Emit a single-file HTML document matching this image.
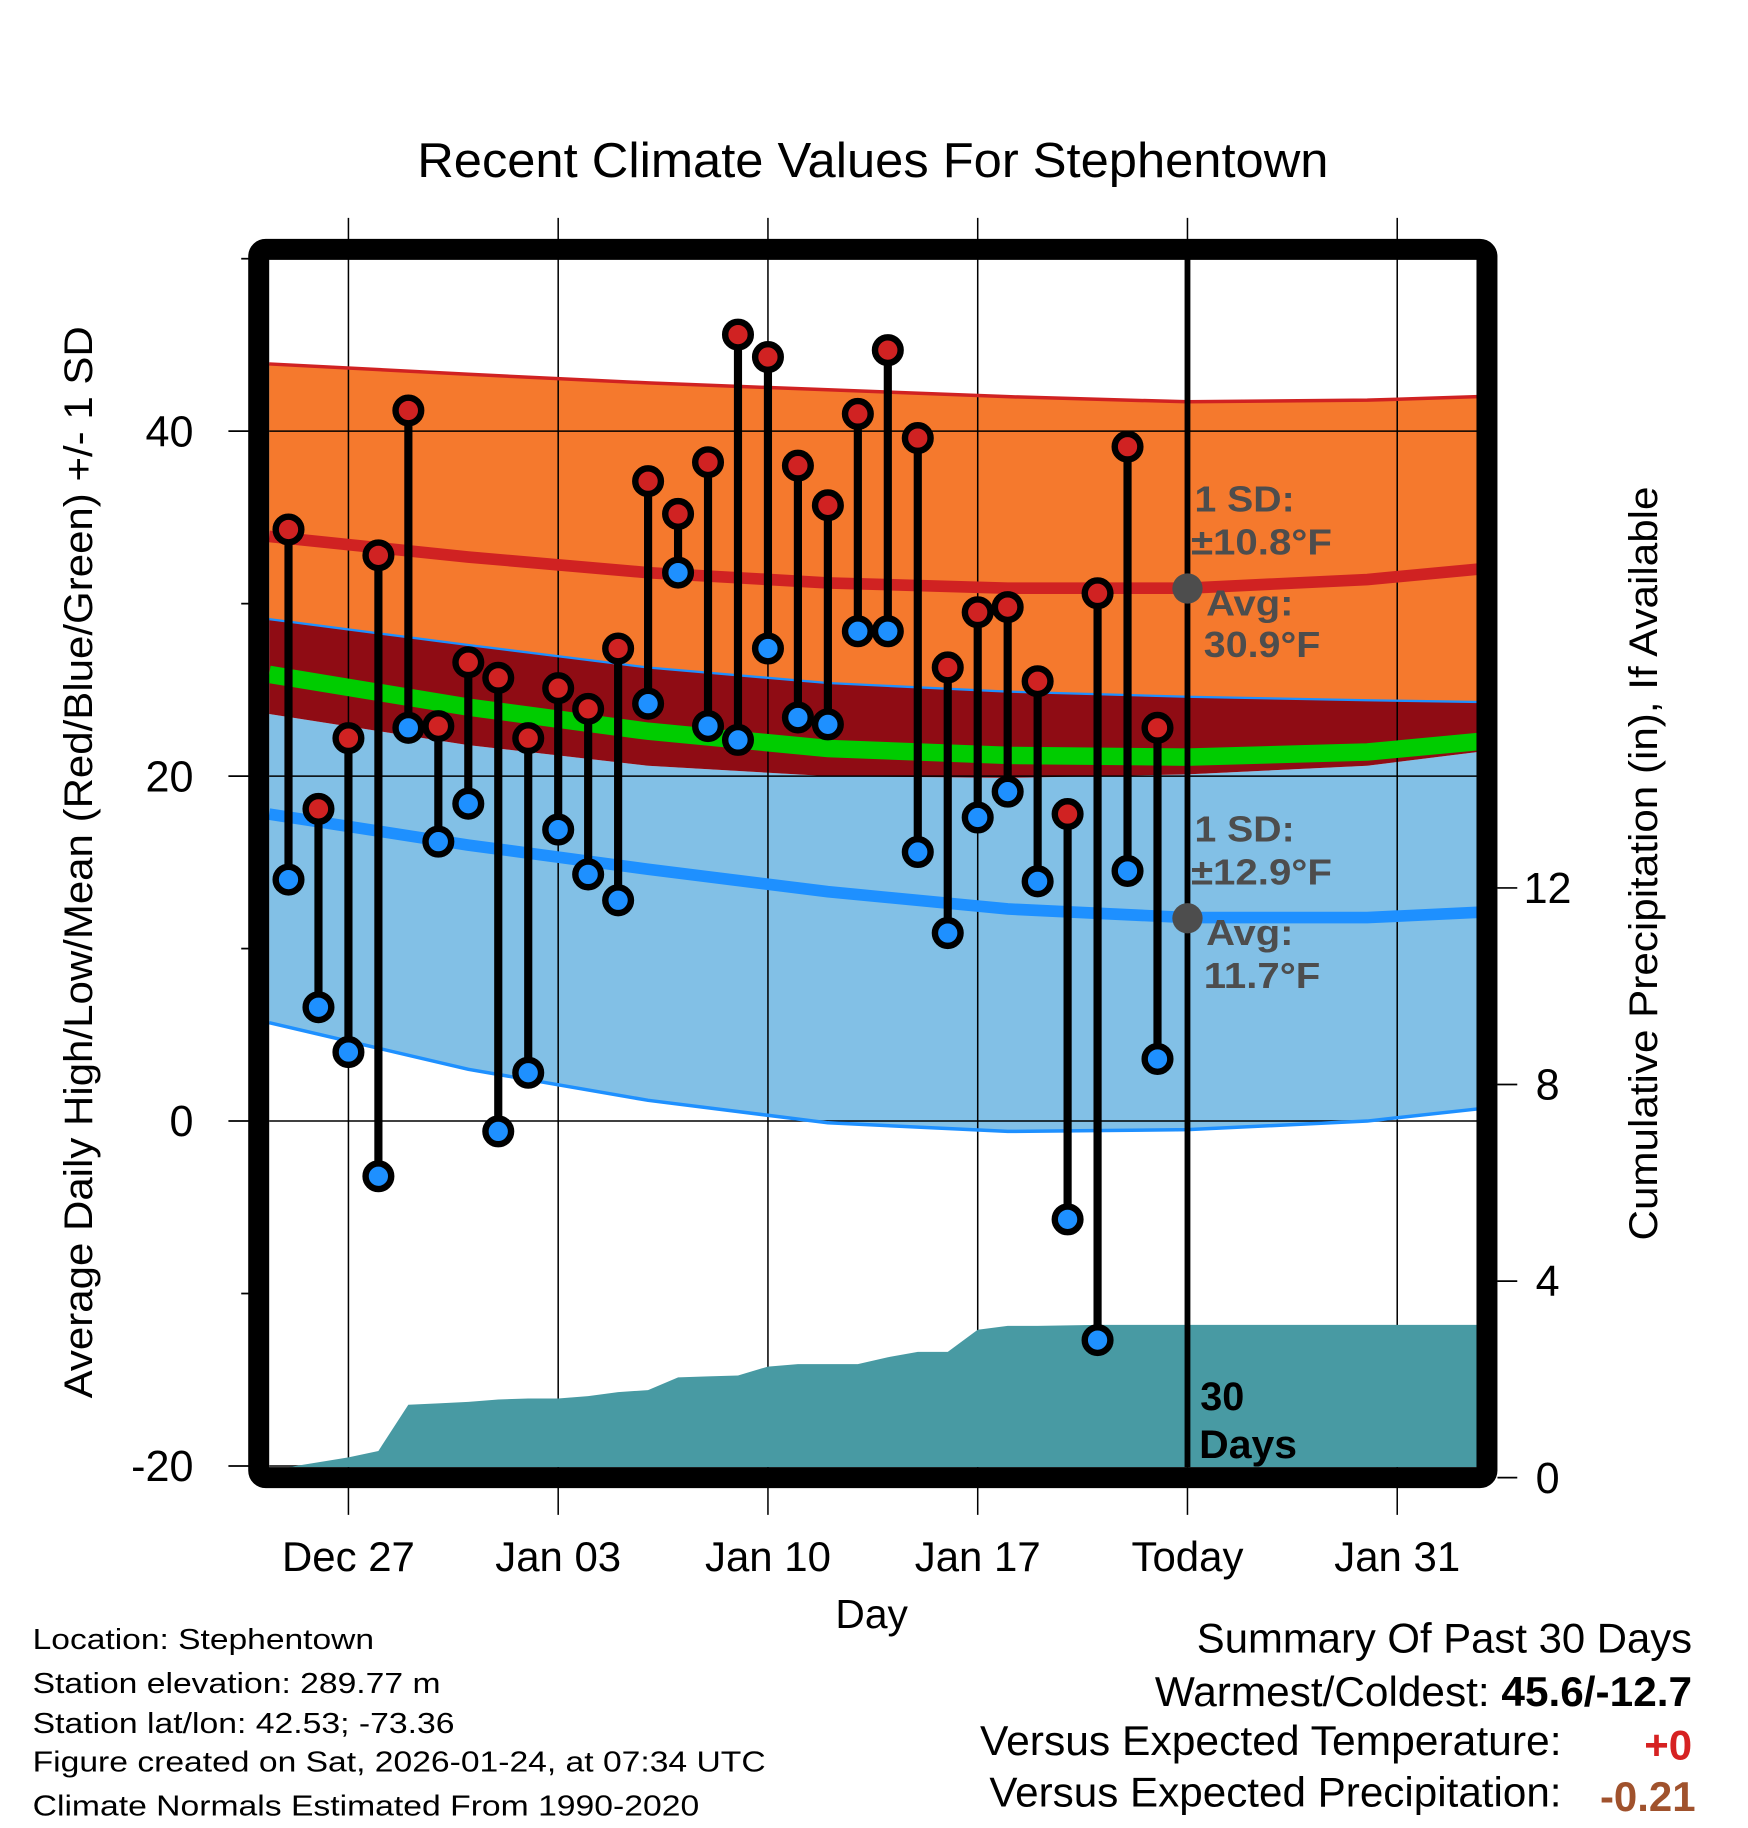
<!DOCTYPE html>
<html><head><meta charset="utf-8"><title>Recent Climate Values For Stephentown</title>
<style>html,body{margin:0;padding:0;background:#fff}svg{display:block}text{font-family:"Liberation Sans",Arial,sans-serif}</style>
</head><body>
<svg id="chart" xmlns="http://www.w3.org/2000/svg" width="1748" height="1828" viewBox="0 0 1500 1568.65">
<rect x="0" y="0" width="1500" height="1570" fill="#fff"/>
<g id="bands"></g>
<g id="grid"></g>
<g id="precip"></g>
<g id="lines"></g>
<line x1="1019" y1="222" x2="1019" y2="1259" stroke="#000" stroke-width="5"/>
<g id="marks"></g>
<g font-weight="bold" font-size="31" fill="#4d4d4d">
<text x="1025" y="439" textLength="86" lengthAdjust="spacingAndGlyphs">1 SD:</text>
<text x="1022" y="476" textLength="121" lengthAdjust="spacingAndGlyphs">±10.8°F</text>
<circle cx="1019" cy="505" r="13" fill="#4d4d4d"/>
<text x="1035" y="528" textLength="75" lengthAdjust="spacingAndGlyphs">Avg:</text>
<text x="1033" y="564" textLength="100" lengthAdjust="spacingAndGlyphs">30.9°F</text>
</g>
<g font-weight="bold" font-size="31" fill="#4d4d4d">
<text x="1025" y="722" textLength="86" lengthAdjust="spacingAndGlyphs">1 SD:</text>
<text x="1022" y="759" textLength="121" lengthAdjust="spacingAndGlyphs">±12.9°F</text>
<circle cx="1019" cy="788" r="13" fill="#4d4d4d"/>
<text x="1035" y="811" textLength="75" lengthAdjust="spacingAndGlyphs">Avg:</text>
<text x="1033" y="848" textLength="100" lengthAdjust="spacingAndGlyphs">11.7°F</text>
</g>
<g font-weight="bold" font-size="34" fill="#000">
<text x="1030" y="1210">30</text>
<text x="1029" y="1251" textLength="84" lengthAdjust="spacingAndGlyphs">Days</text>
</g>
<rect x="222" y="214" width="1054" height="1054" rx="6" fill="none" stroke="#000" stroke-width="18"/>
<g id="axes"></g>
<text x="749" y="152" text-anchor="middle" font-size="42" textLength="782" lengthAdjust="spacingAndGlyphs">Recent Climate Values For Stephentown</text>
<text transform="translate(79,740) rotate(-90)" text-anchor="middle" font-size="34" textLength="920" lengthAdjust="spacingAndGlyphs">Average Daily High/Low/Mean (Red/Blue/Green) +/- 1 SD</text>
<text transform="translate(1422,741) rotate(-90)" text-anchor="middle" font-size="34" textLength="647" lengthAdjust="spacingAndGlyphs">Cumulative Precipitation (in), If Available</text>
<text x="748" y="1397" text-anchor="middle" font-size="35">Day</text>
<g font-size="25" fill="#000">
<text x="28" y="1415" textLength="293" lengthAdjust="spacingAndGlyphs">Location: Stephentown</text>
<text x="28" y="1453" textLength="350" lengthAdjust="spacingAndGlyphs">Station elevation: 289.77 m</text>
<text x="28" y="1487" textLength="362" lengthAdjust="spacingAndGlyphs">Station lat/lon: 42.53; -73.36</text>
<text x="28" y="1520" textLength="629" lengthAdjust="spacingAndGlyphs">Figure created on Sat, 2026-01-24, at 07:34 UTC</text>
<text x="28" y="1558" textLength="572" lengthAdjust="spacingAndGlyphs">Climate Normals Estimated From 1990-2020</text>
</g>
<g font-size="36" fill="#000">
<text x="1452" y="1418" text-anchor="end" textLength="425" lengthAdjust="spacingAndGlyphs">Summary Of Past 30 Days</text>
<text x="1452" y="1464" text-anchor="end" textLength="461" lengthAdjust="spacingAndGlyphs">Warmest/Coldest: <tspan font-weight="bold">45.6/-12.7</tspan></text>
<text x="1340" y="1506" text-anchor="end" textLength="499" lengthAdjust="spacingAndGlyphs">Versus Expected Temperature:</text>
<text x="1452" y="1510" text-anchor="end" font-weight="bold" fill="#d62222">+0</text>
<text x="1340" y="1550" text-anchor="end" textLength="491" lengthAdjust="spacingAndGlyphs">Versus Expected Precipitation:</text>
<text x="1455" y="1554" text-anchor="end" font-weight="bold" fill="#a0522d">-0.21</text>
</g>
</svg>
<script>
// Normals (days relative to Dec 27)
const normDays   = [-2.7, 4, 10, 16, 22, 28, 34, 37.7];
const highUpper  = [43.9, 43.3, 42.8, 42.4, 42.0, 41.7, 41.8, 42.0];
const highMean   = [33.9, 32.7, 31.8, 31.2, 30.9, 30.9, 31.4, 32.0];
const highLower  = [29.1, 27.6, 26.3, 25.4, 24.9, 24.6, 24.4, 24.3];
const meanLine   = [25.9, 24.0, 22.6, 21.6, 21.2, 21.1, 21.4, 22.0];
const lowUpper   = [23.6, 21.8, 20.6, 20.0, 19.9, 20.1, 20.6, 21.4];
const lowMean    = [17.8, 16.0, 14.6, 13.3, 12.3, 11.8, 11.8, 12.1];
const lowLower   = [5.7, 3.0, 1.2, -0.1, -0.6, -0.5, 0.0, 0.7];
// Observations: Dec 25 .. Jan 23
const obsDays = [-2,-1,0,1,2,3,4,5,6,7,8,9,10,11,12,13,14,15,16,17,18,19,20,21,22,23,24,25,26,27];
const highs = [34.3,18.1,22.2,32.8,41.2,22.9,26.6,25.7,22.2,25.1,23.9,27.4,37.1,35.2,38.2,45.6,44.3,38.0,35.7,41.0,44.7,39.6,26.3,29.5,29.8,25.5,17.8,30.6,39.1,22.8];
const lows  = [14.0,6.6,4.0,-3.2,22.8,16.2,18.4,-0.6,2.8,16.9,14.3,12.8,24.2,31.8,22.9,22.1,27.4,23.4,23.0,28.4,28.4,15.6,10.9,17.6,19.1,13.9,-5.7,-12.7,14.5,3.6];
const precip = [0,0.1,0.2,0.33,1.27,1.3,1.33,1.38,1.4,1.4,1.45,1.53,1.57,1.83,1.85,1.87,2.05,2.1,2.1,2.1,2.24,2.35,2.35,2.8,2.88,2.88,2.89,2.9,2.9,2.9];
const xTickDays = [0,7,14,21,28,35];
const xTickLabels = ["Dec 27","Jan 03","Jan 10","Jan 17","Today","Jan 31"];
const yTicks = [40,20,0,-20];
const yMinor = [50,30,10,-10];
const y2Ticks = [12,8,4,0];

const X0=231, X1=1268;
const xs = d => 299 + d*25.714;
const ys = v => 962 - 14.8*v;
const ps = v => 1259 - 42.1*v;
const pt = v => 1268 - 42.17*v;
const NS='http://www.w3.org/2000/svg';
function mk(tag, parent, attrs){const e=document.createElementNS(NS,tag);for(const k in attrs)e.setAttribute(k,attrs[k]);parent.appendChild(e);return e;}
const pts = arr => normDays.map((d,i)=>[Math.min(Math.max(xs(d),X0),X1), ys(arr[i])]);
function bandPath(top,bot){const a=pts(top),b=pts(bot).reverse();return 'M'+a.concat(b).map(p=>p[0].toFixed(1)+','+p[1].toFixed(1)).join('L')+'Z';}
function linePath(arr){return 'M'+pts(arr).map(p=>p[0].toFixed(1)+','+p[1].toFixed(1)).join('L');}

const bands=document.getElementById('bands');
let e;
e=mk('path',bands,{d:bandPath(highUpper,highLower),fill:'#f5792d'});


e=mk('path',bands,{d:bandPath(lowUpper,lowLower),fill:'#82c0e6'});


e=mk('path',bands,{d:bandPath(highLower,lowUpper),fill:'#8f0c14'});



const grid=document.getElementById('grid');
xTickDays.forEach(d=>{
  e=mk('line',grid,{x1:xs(d),x2:xs(d),y1:187,y2:1300,stroke:'#000','stroke-width':1.3});
  
  
});
yTicks.forEach(v=>{
  e=mk('line',grid,{x1:X0,x2:X1,y1:ys(v),y2:ys(v),stroke:'#000','stroke-width':1.3});
  
  
});

const pg=document.getElementById('precip');
let pd='M'+X0+','+ps(0);
obsDays.forEach((d,i)=>{pd+='L'+xs(d).toFixed(1)+','+ps(precip[i]).toFixed(1);});
pd+='L'+X1+','+ps(precip[precip.length-1]).toFixed(1)+'L'+X1+','+ps(0)+'Z';
e=mk('path',pg,{d:pd,fill:'#489aa3'});



const lines=document.getElementById('lines');
e=mk('path',lines,{d:linePath(highUpper),fill:'none',stroke:'#d02222','stroke-width':3});


e=mk('path',lines,{d:linePath(highLower),fill:'none',stroke:'#1e90ff','stroke-width':2});


e=mk('path',lines,{d:linePath(lowLower),fill:'none',stroke:'#1e90ff','stroke-width':3});


e=mk('path',lines,{d:linePath(highMean),fill:'none',stroke:'#d02222','stroke-width':10});


e=mk('path',lines,{d:linePath(meanLine),fill:'none',stroke:'#00cc00','stroke-width':15});


e=mk('path',lines,{d:linePath(lowMean),fill:'none',stroke:'#1e90ff','stroke-width':10});



const marks=document.getElementById('marks');
obsDays.forEach((d,i)=>{
  const x=xs(d);
  e=mk('line',marks,{x1:x,x2:x,y1:ys(highs[i]),y2:ys(lows[i]),stroke:'#000','stroke-width':7});
  
  
});
obsDays.forEach((d,i)=>{
  const x=xs(d);
  e=mk('circle',marks,{cx:x,cy:ys(highs[i]),r:11,fill:'#d02222',stroke:'#000','stroke-width':5.5});
  
  
  e=mk('circle',marks,{cx:x,cy:ys(lows[i]),r:11,fill:'#1e90ff',stroke:'#000','stroke-width':5.5});
  
  
});

const axes=document.getElementById('axes');
yTicks.forEach(v=>{
  e=mk('line',axes,{x1:196,x2:214,y1:ys(v),y2:ys(v),stroke:'#000','stroke-width':1.5});
  
  
  e=mk('text',axes,{x:166,y:ys(v)+13,'text-anchor':'end','font-size':37});
  e.textContent=String(v);
  
  
});
yMinor.forEach(v=>{
  e=mk('line',axes,{x1:207,x2:214,y1:ys(v),y2:ys(v),stroke:'#000','stroke-width':1.5});
  
  
});
y2Ticks.forEach(v=>{
  e=mk('line',axes,{x1:1285,x2:1302,y1:pt(v),y2:pt(v),stroke:'#000','stroke-width':1.5});
  
  
  e=mk('text',axes,{x:1328,y:pt(v)+13,'text-anchor':'middle','font-size':37});
  e.textContent=String(v);
  
  
});
xTickDays.forEach((d,i)=>{
  e=mk('text',axes,{x:xs(d),y:1348,'text-anchor':'middle','font-size':36});
  e.textContent=xTickLabels[i];
  
  
});
</script>
</body></html>
